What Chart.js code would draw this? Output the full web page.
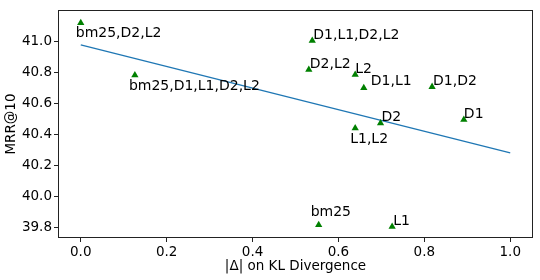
<!DOCTYPE html>
<html>
<head>
<meta charset="utf-8">
<script src="https://cdn.jsdelivr.net/npm/chart.js@4"></script>
<style>
    html, body { margin: 0; padding: 0; background: #fff; }
    #wrap { width: 540px; height: 280px; }
</style>
</head>
<body>
<div id="wrap"><canvas id="kl"></canvas></div>
<script>
// Data
const names = ['bm25,D2,L2', 'bm25,D1,L1,D2,L2', 'D1,L1,D2,L2', 'D2,L2', 'L2', 'D1,L1',
               'D1,D2', 'D1', 'D2', 'L1,L2', 'bm25', 'L1'];
const klDelta = [0.0, 0.126, 0.539, 0.531, 0.639, 0.659, 0.818, 0.892, 0.698, 0.639, 0.554, 0.725];
const mrr = [41.117, 40.782, 41.004, 40.817, 40.785, 40.700, 40.707, 40.495, 40.473, 40.441, 39.819, 39.808];
const fitX = [0.0, 1.0];
const fitY = [40.976, 40.282];
const xTicks = [0.0, 0.2, 0.4, 0.6, 0.8, 1.0];
const yTicks = [39.8, 40.0, 40.2, 40.4, 40.6, 40.8, 41.0];

// label offsets in px from the marker (left edge, baseline)
const labelShift = [[-5, 14], [-6, 15], [1, -2], [1, -2], [0, -2], [7, -3],
                    [1, -2], [0, -2], [1, -2], [-5, 15], [-8, -9], [1, -2]];

const FONT = 'DejaVu Sans';

// matplotlib style full box around the plot
const frameBox = {
    id: 'frameBox',
    afterDraw(chart) {
        const { ctx, chartArea: a } = chart;
        ctx.save();
        ctx.strokeStyle = '#222';
        ctx.lineWidth = 1;
        ctx.strokeRect(Math.round(a.left) + 0.5, Math.round(a.top) + 0.5,
                       Math.round(a.right - a.left) - 1, Math.round(a.bottom - a.top) - 1);
        ctx.restore();
    }
};

const pointLabels = {
    id: 'pointLabels',
    afterDatasetsDraw(chart) {
        const ctx = chart.ctx;
        const meta = chart.getDatasetMeta(0);
        ctx.save();
        ctx.font = '14px "' + FONT + '"';
        ctx.fillStyle = '#000';
        ctx.textAlign = 'left';
        ctx.textBaseline = 'alphabetic';
        meta.data.forEach((pt, i) => {
            ctx.fillText(names[i], pt.x + labelShift[i][0], pt.y + labelShift[i][1]);
        });
        ctx.restore();
    }
};

function init() {
    const ctx = document.getElementById('kl').getContext('2d');
    new Chart(ctx, {
        type: 'scatter',
        data: {
            datasets: [{
                data: klDelta.map((x, i) => ({ x: x, y: mrr[i] })),
                pointStyle: 'triangle',
                pointRadius: 4.2,
                backgroundColor: '#008000',
                borderColor: '#008000',
                borderWidth: 0
            }, {
                type: 'line',
                data: fitX.map((x, i) => ({ x: x, y: fitY[i] })),
                borderColor: '#1f77b4',
                borderWidth: 1.3,
                pointRadius: 0,
                fill: false
            }]
        },
        options: {
            responsive: true,
            maintainAspectRatio: false,
            animation: false,
            layout: { padding: { left: 0, right: 7, top: 7, bottom: 0 } },
            plugins: { legend: { display: false }, tooltip: { enabled: false } },
            scales: {
                x: {
                    type: 'linear',
                    min: -0.053,
                    max: 1.053,
                    afterBuildTicks: s => { s.ticks = xTicks.map(v => ({ value: v })); },
                    afterFit: s => { s.height = 42; },
                    border: { display: false },
                    grid: { drawOnChartArea: false, drawTicks: true, tickLength: 4, color: '#222' },
                    ticks: {
                        color: '#000', padding: 2, maxRotation: 0,
                        font: { family: FONT, size: 13.5 },
                        callback: v => v.toFixed(1)
                    },
                    title: {
                        display: true, text: '|Δ| on KL Divergence', color: '#000',
                        font: { family: FONT, size: 13.5 },
                        padding: { top: 0, bottom: 5 }
                    }
                },
                y: {
                    min: 39.735,
                    max: 41.2,
                    afterBuildTicks: s => { s.ticks = yTicks.map(v => ({ value: v })); },
                    afterFit: s => { s.width = 58; },
                    border: { display: false },
                    grid: { drawOnChartArea: false, drawTicks: true, tickLength: 4, color: '#222' },
                    ticks: {
                        color: '#000', padding: 2,
                        font: { family: FONT, size: 13.5 },
                        callback: v => v.toFixed(1)
                    },
                    title: {
                        display: true, text: 'MRR@10', color: '#000',
                        font: { family: FONT, size: 13.5 },
                        padding: { top: 3, bottom: 0 }
                    }
                }
            }
        },
        plugins: [frameBox, pointLabels]
    });
}

window.addEventListener('DOMContentLoaded', init);
</script>
</body>
</html>
